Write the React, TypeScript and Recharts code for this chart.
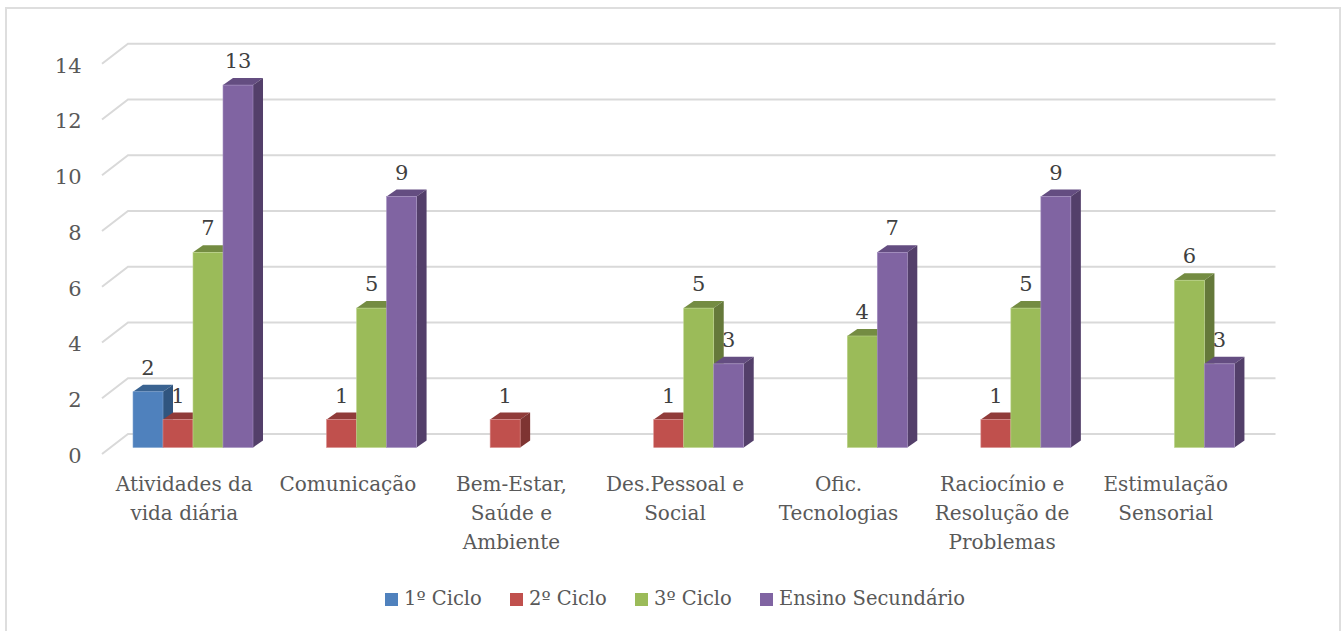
import React from 'react'
import { BarChart, Bar, XAxis, YAxis, CartesianGrid, Legend, LabelList } from 'recharts'

const categories = [
  'Atividades da vida diária',
  'Comunicação',
  'Bem-Estar, Saúde e Ambiente',
  'Des.Pessoal e Social',
  'Ofic. Tecnologias',
  'Raciocínio e Resolução de Problemas',
  'Estimulação Sensorial',
]
const categoryLines = [
  ['Atividades da', 'vida diária'],
  ['Comunicação'],
  ['Bem-Estar,', 'Saúde e', 'Ambiente'],
  ['Des.Pessoal e', 'Social'],
  ['Ofic.', 'Tecnologias'],
  ['Raciocínio e', 'Resolução de', 'Problemas'],
  ['Estimulação', 'Sensorial'],
]
const ciclo1 = [2, null, null, null, null, null, null]
const ciclo2 = [1, 1, 1, 1, null, 1, null]
const ciclo3 = [7, 5, null, 5, 4, 5, 6]
const secundario = [13, 9, null, 3, 7, 9, 3]
const yTicks = [0, 2, 4, 6, 8, 10, 12, 14]

const data = categories.map((name, i) => ({
  name,
  ciclo1: ciclo1[i],
  ciclo2: ciclo2[i],
  ciclo3: ciclo3[i],
  secundario: secundario[i],
}))

const FONT = '"DejaVu Serif", serif'
const DEPTH_X = 10
const DEPTH_Y = 7

// front, top and side colours of the fake 3D bars
const SHADES: Record<string, { top: string; side: string; edge: string }> = {
  '#4F81BD': { top: '#3A6391', side: '#30557F', edge: '#7FA3D0' },
  '#C0504D': { top: '#903B39', side: '#7E3432', edge: '#D98B89' },
  '#9BBB59': { top: '#748C42', side: '#65793A', edge: '#BDD48D' },
  '#8064A2': { top: '#644D81', side: '#533F6A', edge: '#A48FC0' },
}

const Bar3D = (props: any) => {
  const { x, y, width, height, fill } = props
  if (!height) return null
  const s = SHADES[fill]
  const r = x + width
  const b = y + height
  return (
    <g>
      <path d={`M${x},${y} L${x + DEPTH_X},${y - DEPTH_Y} L${r + DEPTH_X},${y - DEPTH_Y} L${r},${y} Z`} fill={s.top} />
      <path d={`M${r},${y} L${r + DEPTH_X},${y - DEPTH_Y} L${r + DEPTH_X},${b - DEPTH_Y} L${r},${b} Z`} fill={s.side} />
      <rect x={x} y={y} width={width} height={height} fill={fill} stroke={s.edge} strokeWidth={0.6} />
    </g>
  )
}

// gridline runs along the floor side wall and then along the back wall
const GridLine = (props: any) => {
  const { x1, x2, y1 } = props
  return (
    <path
      d={`M${x1 - 8.5},${y1 + 6.5} L${x1 + 17.5},${y1 - 13.5} L${x2 + 20},${y1 - 13.5}`}
      fill="none"
      stroke="#D9D9D9"
      strokeWidth={2}
    />
  )
}

const CategoryTick = (props: any) => {
  const { x, y, index } = props
  return (
    <text x={x - 8} textAnchor="middle" fontFamily={FONT} fontSize={20} fill="#595959">
      {categoryLines[index].map((line, i) => (
        <tspan key={line} x={x - 8} y={y + 35 + i * 29}>
          {line}
        </tspan>
      ))}
    </text>
  )
}

const legendWidths = [125, 125, 125, 220]

const LegendRow = ({ payload }: any) => (
  <div style={{ display: 'flex', fontFamily: FONT, fontSize: 19.5, color: '#595959', lineHeight: '26px' }}>
    {payload.map((item: any, i: number) => (
      <div key={item.value} style={{ width: legendWidths[i], display: 'flex', alignItems: 'center', whiteSpace: 'nowrap' }}>
        <span style={{ width: 13, height: 13, background: item.color, marginRight: 6, flex: 'none' }} />
        {item.value}
      </div>
    ))}
  </div>
)

const labelStyle = { fontFamily: FONT, fontSize: 21, fill: '#404040' }

export default function App() {
  return (
    <div style={{ position: 'absolute', left: 0, top: 0, width: 1344, height: 631, overflow: 'hidden', background: '#fff' }}>
      <div style={{ position: 'absolute', left: 4.5, top: 7, width: 1332, height: 640, border: '2px solid #DEDEDE' }} />
      <BarChart
        width={1344}
        height={631}
        data={data}
        margin={{ top: 57.2, right: 88.5, bottom: 83.5, left: 0 }}
        barGap={0}
        barCategoryGap="13.76%"
        style={{ position: 'absolute', left: 0, top: 0 }}
      >
        <CartesianGrid vertical={false} horizontal={(p: any) => <GridLine key={p.key} {...p} />} />
        <XAxis dataKey="name" axisLine={false} tickLine={false} interval={0} height={100} tick={<CategoryTick />} />
        <YAxis
          width={110.5}
          domain={[0, 14]}
          ticks={yTicks}
          axisLine={false}
          tickLine={false}
          tickSize={0}
          tickMargin={29}
          tick={{ fontFamily: FONT, fontSize: 21, fill: '#595959', dy: 8 }}
        />
        <Legend
          layout="horizontal"
          verticalAlign="middle"
          content={<LegendRow />}
          wrapperStyle={{ left: 385, top: 586, width: 600 }}
        />
        <Bar dataKey="ciclo1" name="1º Ciclo" fill="#4F81BD" shape={<Bar3D />} isAnimationActive={false}>
          <LabelList dataKey="ciclo1" position="top" offset={17} style={labelStyle} />
        </Bar>
        <Bar dataKey="ciclo2" name="2º Ciclo" fill="#C0504D" shape={<Bar3D />} isAnimationActive={false}>
          <LabelList dataKey="ciclo2" position="top" offset={17} style={labelStyle} />
        </Bar>
        <Bar dataKey="ciclo3" name="3º Ciclo" fill="#9BBB59" shape={<Bar3D />} isAnimationActive={false}>
          <LabelList dataKey="ciclo3" position="top" offset={17} style={labelStyle} />
        </Bar>
        <Bar dataKey="secundario" name="Ensino Secundário" fill="#8064A2" shape={<Bar3D />} isAnimationActive={false}>
          <LabelList dataKey="secundario" position="top" offset={17} style={labelStyle} />
        </Bar>
      </BarChart>
    </div>
  )
}
